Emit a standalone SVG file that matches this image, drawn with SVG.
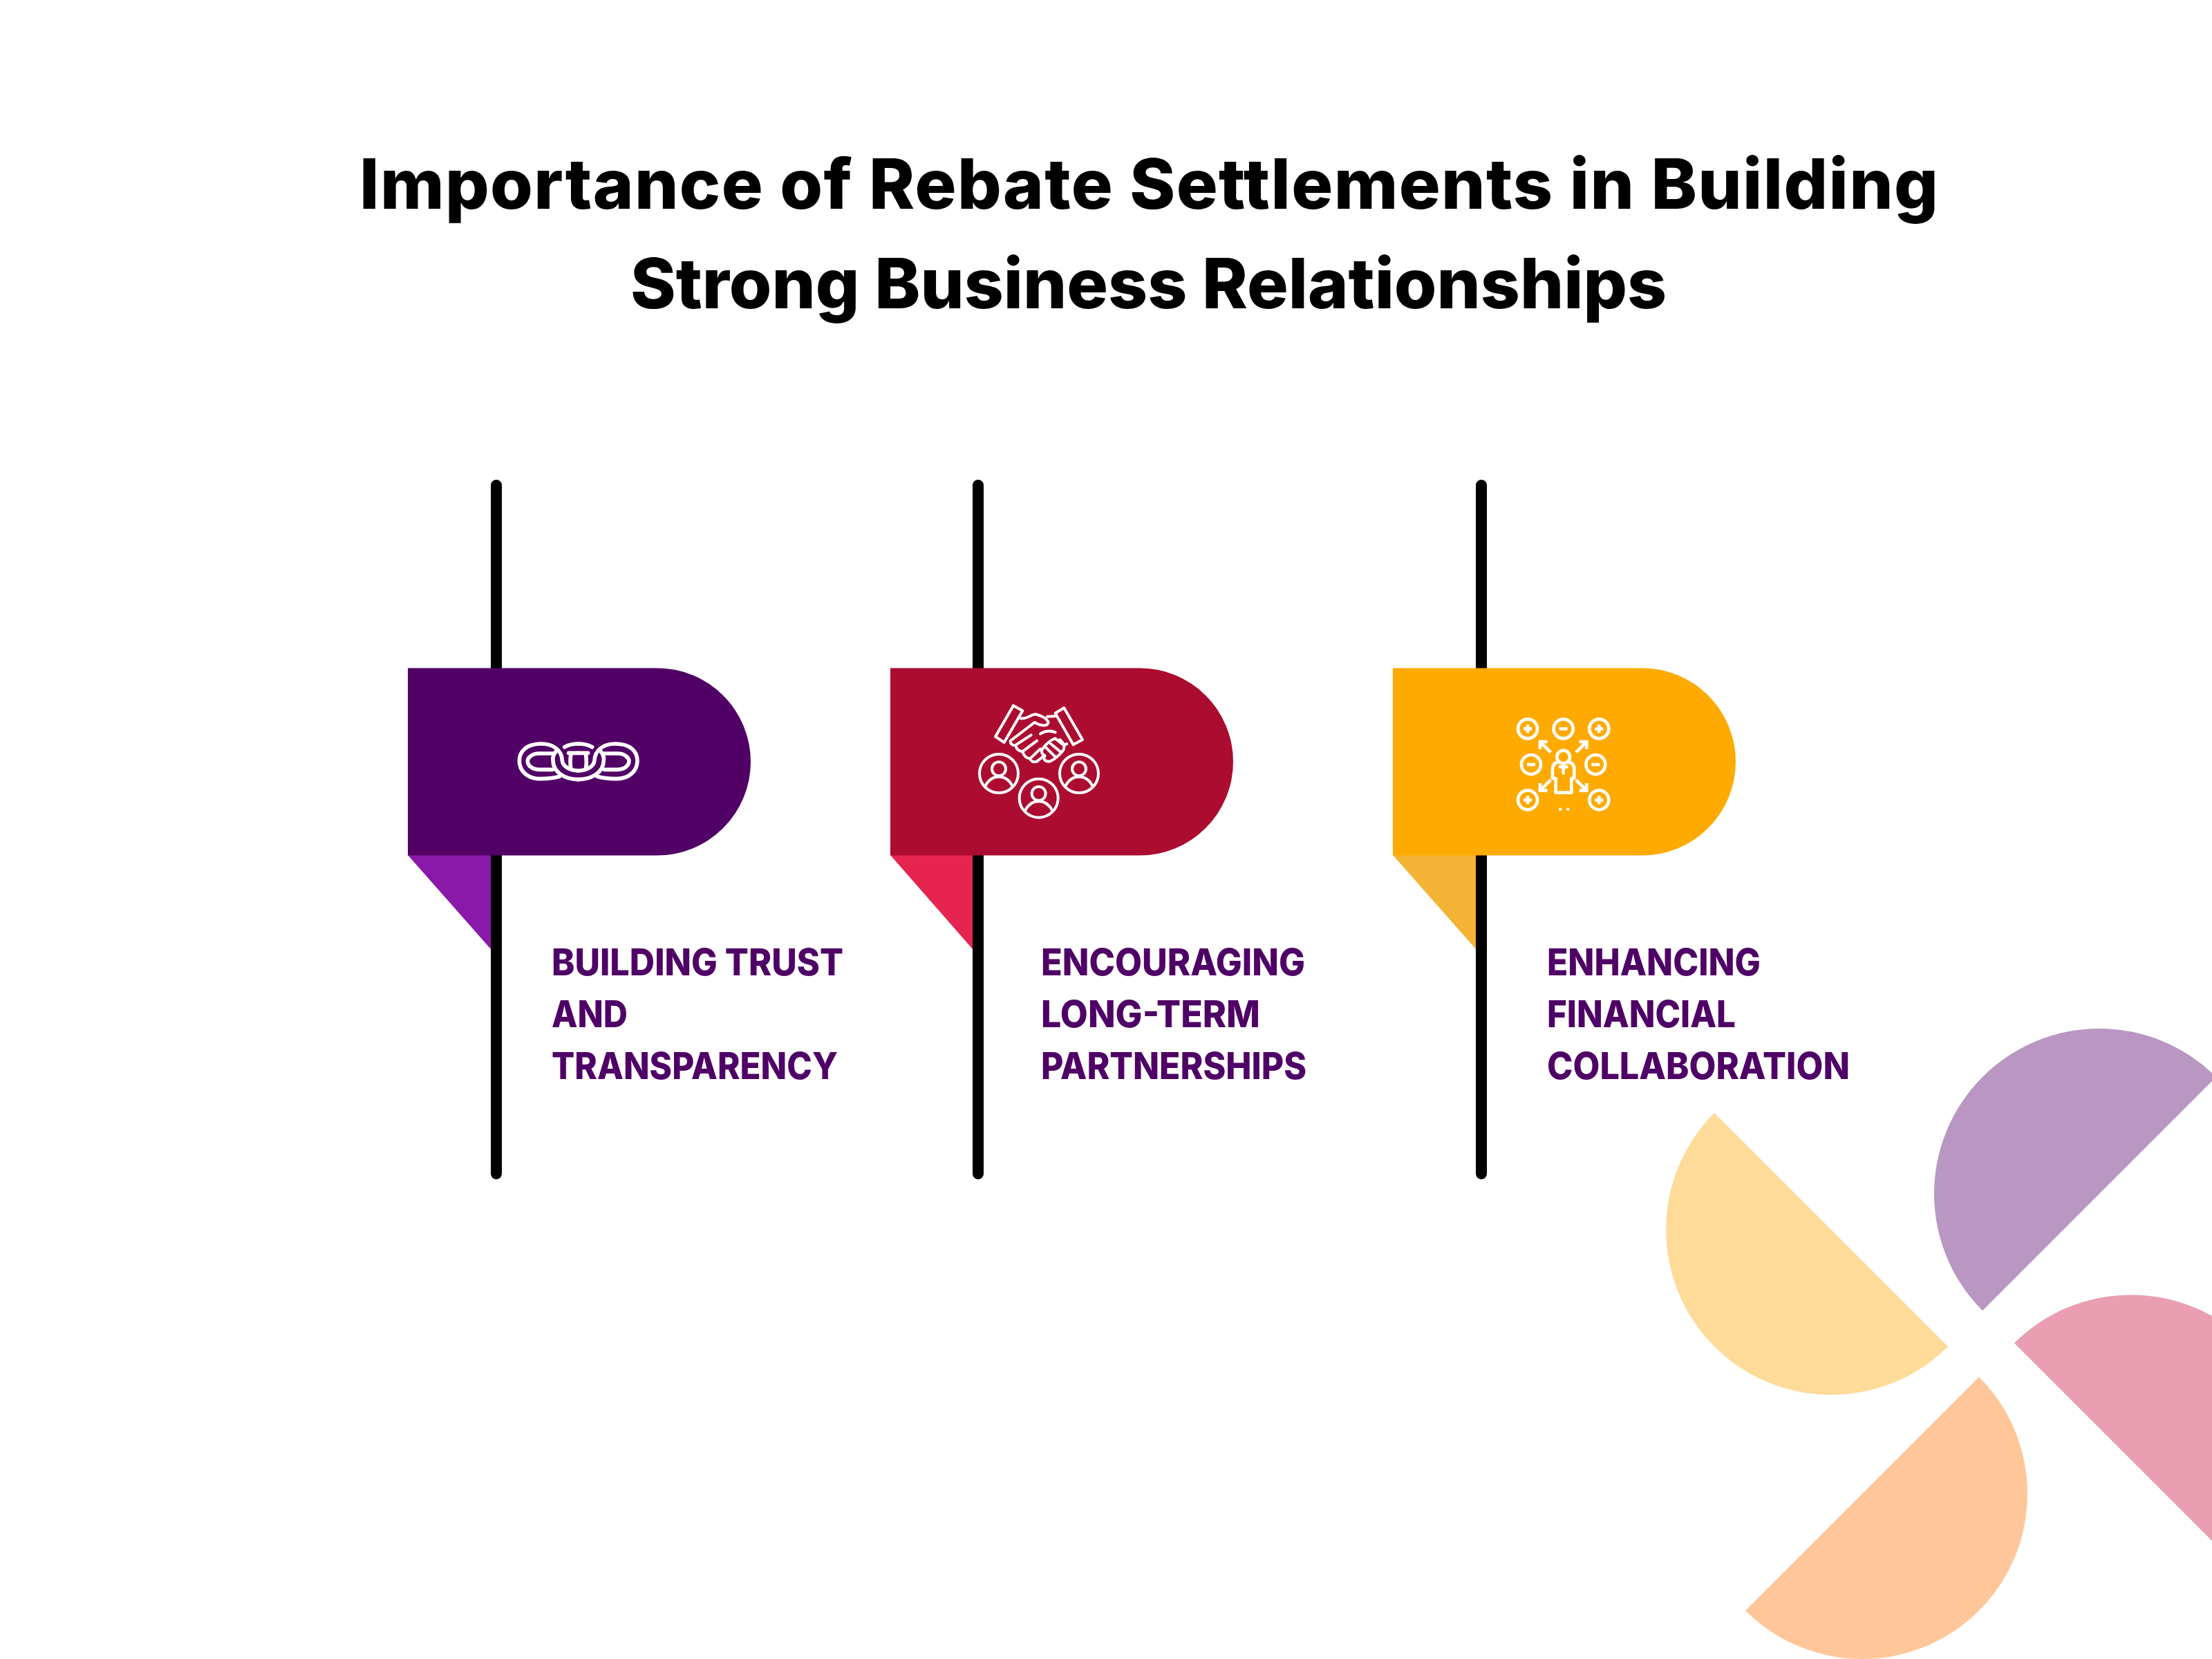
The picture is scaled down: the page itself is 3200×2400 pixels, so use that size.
<svg xmlns="http://www.w3.org/2000/svg" xmlns:xlink="http://www.w3.org/1999/xlink" width="3200" height="2400" viewBox="0 0 3200 2400">
<style>
.title{font-family:Inter,"Liberation Sans",sans-serif;font-weight:800;font-size:100px;fill:#000}
.label{font-family:Inter,"Liberation Sans",sans-serif;font-weight:800;font-size:54px;fill:#4f0066}
.pole{stroke:#000;stroke-width:16;stroke-linecap:round;fill:none}
.ico{fill:none;stroke:#fff;stroke-width:12;stroke-linecap:round;stroke-linejoin:round}
.thick{stroke-width:14}
.chain{stroke-width:17}
.sq{stroke-width:14;stroke-linecap:butt}
</style>
<defs>
<path id="flag" d="M0 0H360.500A135.500 135.500 0 0 1 360.500 271H0Z"/>
<g id="person"><circle r="84" class="ico"/><circle cy="-20" r="30" class="ico"/><path class="ico" d="M-60 56C-46 28-24 14 0 14C24 14 46 28 60 56"/></g>
<g id="plus"><circle r="42" class="ico thick"/><path class="ico sq" d="M-18 0H18M0-18V18"/></g>
<g id="minus"><circle r="42" class="ico thick"/><path class="ico sq" d="M-18 0H18"/></g>
<path id="arrow" class="ico sq" style="stroke-linejoin:miter" d="M0 0L-46-46M-46-14V-46H-14"/>
<g id="chainhalf"><path class="ico chain" d="M268 220Q235 230 185 230C125 230 94 192 94 152C94 110 125 78 190 78C240 78 278 105 280 150C282 172 305 193 350 195"/><path class="ico chain" d="M238 120H180C148 120 130 138 130 154C130 172 150 190 180 190H238"/><path class="ico chain" d="M290 92Q315 78 350 78M240 150C240 200 290 233 350 233M252 112C242 125 238 138 240 150M308 118H350M318 122Q312 155 318 188"/></g>
</defs>
<rect width="3200" height="2400" fill="#fff"/>
<g id="title"><text class="title" x="520" y="302" textLength="2284" lengthAdjust="spacing">Importance of Rebate Settlements in Building</text><text class="title" x="912" y="446" textLength="1499" lengthAdjust="spacingAndGlyphs">Strong Business Relationships</text></g>
<g id="connectors"><path class="pole" d="M718 702V1698M1415 702V1698M2143 702V1698"/></g>
<g id="node-trust">
<path fill="#8a18a8" d="M590 1237H710V1373Z"/><use href="#flag" x="590" y="966.500" fill="#510066"/>
<g transform="translate(720 1050) scale(.3333)"><use href="#chainhalf"/><use href="#chainhalf" transform="translate(700 0) scale(-1 1)"/></g>
<text class="label" x="798" y="1411" textLength="422" lengthAdjust="spacingAndGlyphs">BUILDING TRUST</text><text class="label" x="798" y="1486" textLength="110" lengthAdjust="spacingAndGlyphs">AND</text><text class="label" x="798" y="1561" textLength="414" lengthAdjust="spacingAndGlyphs">TRANSPARENCY</text>
</g>
<g id="node-partnerships">
<path fill="#e52550" d="M1288 1237H1407V1373Z"/><use href="#flag" x="1288" y="966.500" fill="#ab0c30"/>
<g transform="translate(1380 1000) scale(.3333)">
<path class="ico" d="M258 62L298 85L218 222L180 197ZM478 72L440 95L518 232L558 210Z"/>
<path class="ico" d="M290 118C320 120 335 100 355 100C380 105 405 120 410 135C405 155 375 150 350 135C330 150 280 190 245 215Q245 235 268 235Q272 258 298 262Q305 288 330 293Q340 312 360 305L385 285M405 110L440 108M270 232L335 190M300 260L360 215M330 293L375 250M375 185Q405 165 440 178M440 205L478 235L490 228M440 205C420 210 395 235 385 250C375 265 385 275 395 280C385 295 395 305 415 305C440 295 455 280 470 262C485 245 478 225 460 210M400 245L440 285M420 228L462 262"/>
<use href="#person" x="195" y="357"/><use href="#person" x="543" y="357"/><use href="#person" x="368" y="464"/>
</g>
<text class="label" x="1506" y="1411" textLength="382" lengthAdjust="spacingAndGlyphs">ENCOURAGING</text><text class="label" x="1506" y="1486" textLength="317" lengthAdjust="spacingAndGlyphs">LONG-TERM</text><text class="label" x="1506" y="1561" textLength="384" lengthAdjust="spacingAndGlyphs">PARTNERSHIPS</text>
</g>
<g id="node-collaboration">
<path fill="#f5b335" d="M2015 1237H2135V1373Z"/><use href="#flag" x="2015" y="966.500" fill="#ffaa00"/>
<g transform="translate(2160 1020) scale(.3333)">
<use href="#plus" x="150" y="103"/><use href="#minus" x="305" y="103"/><use href="#plus" x="460" y="103"/>
<use href="#minus" x="165" y="258"/><use href="#minus" x="445" y="258"/><use href="#plus" x="150" y="412"/><use href="#plus" x="460" y="412"/>
<use href="#arrow" transform="translate(250 205)"/><use href="#arrow" transform="translate(360 205) scale(-1 1)"/><use href="#arrow" transform="translate(250 325) scale(1 -1)"/><use href="#arrow" transform="translate(360 325) scale(-1 -1)"/>
<circle class="ico thick" cx="305" cy="225" r="28"/>
<path class="ico thick" d="M285 247Q258 250 258 280V318H272V380H340V318H352V280Q352 250 325 247M290 268H320M305 268V295"/>
<path fill="#fff" d="M286 446h12v12h-12zM319 446h12v12h-12z"/>
</g>
<text class="label" x="2238" y="1411" textLength="309" lengthAdjust="spacingAndGlyphs">ENHANCING</text><text class="label" x="2238" y="1486" textLength="273" lengthAdjust="spacingAndGlyphs">FINANCIAL</text><text class="label" x="2238" y="1561" textLength="438" lengthAdjust="spacingAndGlyphs">COLLABORATION</text>
</g>
<g id="pinwheel">
<path fill="#ffdb99" d="M2480 1610L2818 1948A239 239 0 0 1 2480 1610Z"/>
<path fill="#b997c2" d="M2868 1896L3206 1558A239 239 0 0 0 2868 1896Z"/>
<path fill="#e99fb1" d="M2914 1943L3252 2281A239 239 0 0 0 2914 1943Z"/>
<path fill="#ffc799" d="M2863 1992L2525 2330A239 239 0 0 0 2863 1992Z"/>
</g>
</svg>
